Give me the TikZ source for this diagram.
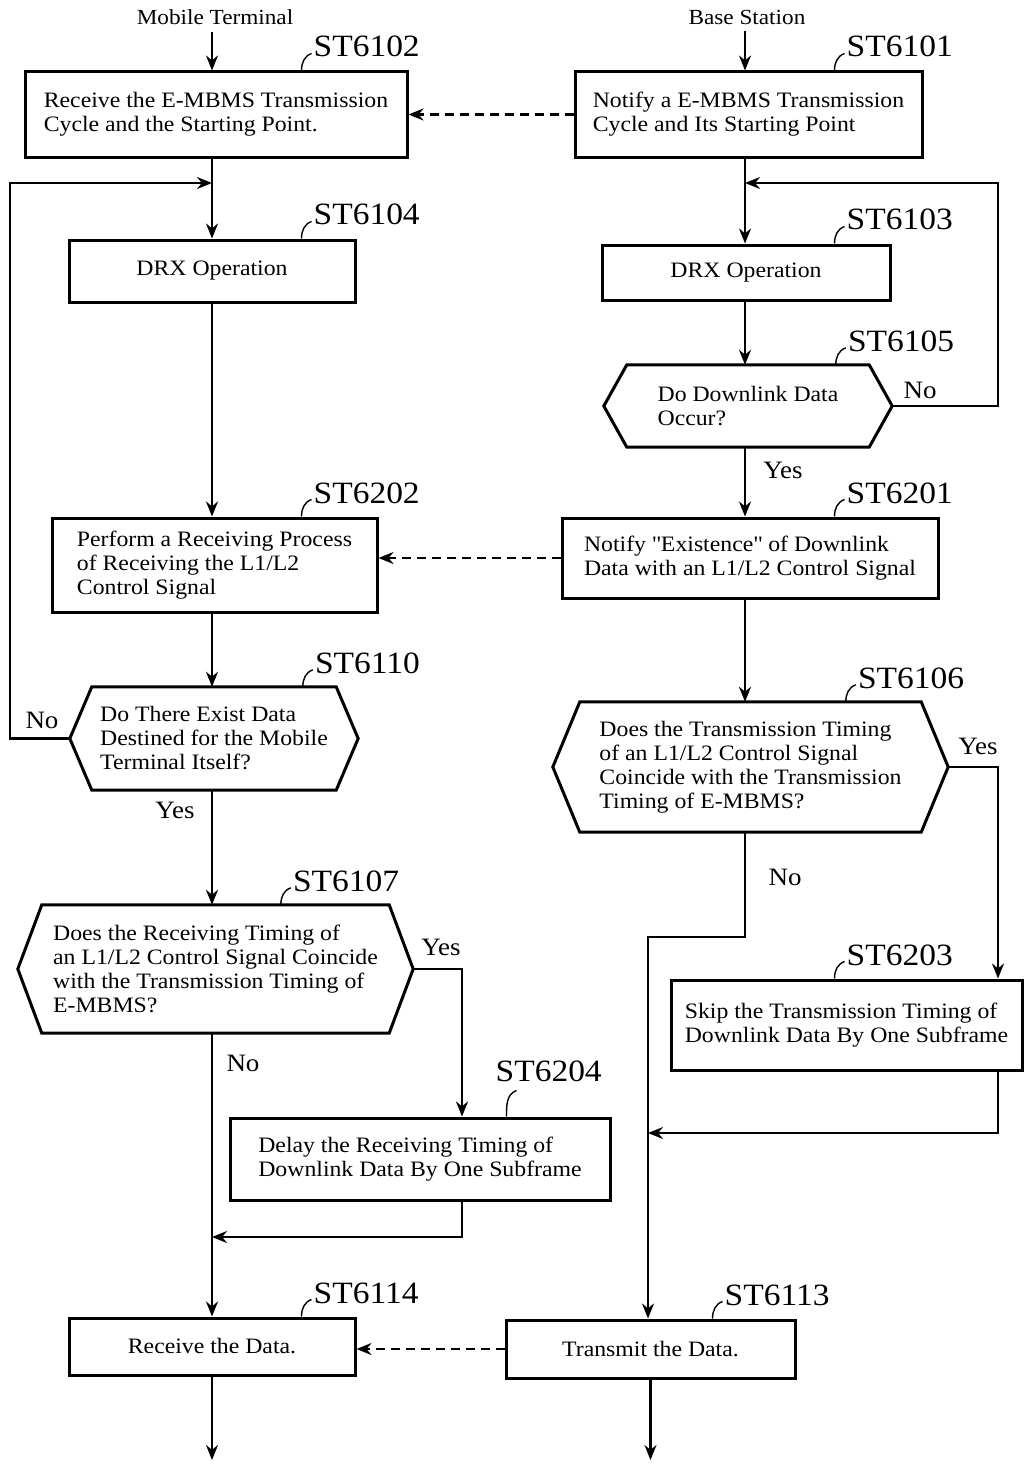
\documentclass[tikz,border=0pt]{standalone}
\usepackage{fontspec}
\setmainfont{Liberation Serif}[FakeStretch=1.08]
\usetikzlibrary{arrows.meta, calc}

\begin{document}
\begin{tikzpicture}[
  x=1pt, y=1pt,
  box/.style={draw, line width=3pt, inner sep=0pt, align=left, font=\fontsize{22}{24}\selectfont},
  dec/.style={inner sep=0pt, align=left, font=\fontsize{22}{24}\selectfont},
  hexline/.style={line width=3pt, line join=miter},
  tag/.style={inner sep=0pt, anchor=south west, font=\fontsize{31}{34}\selectfont},
  tick/.style={line width=1.4pt},
  yn/.style={inner sep=0pt, font=\fontsize{25}{28}\selectfont},
  head/.style={inner sep=7pt, font=\fontsize{21.5}{24}\selectfont},
  flow/.style={line width=2.2pt, -{Stealth[length=15pt, width=12pt]}},
  dflow/.style={flow, dash pattern=on 9pt off 6pt}
]
  \useasboundingbox (0,0) rectangle (1025,-1464);

  \coordinate (colL) at (212,0);
  \coordinate (colR) at (745,0);
  \coordinate (colT) at (648,0);

  % headers
  \node[head] (mt) at (215,-17) {Mobile Terminal};
  \node[head] (bs) at (747,-17) {Base Station};

  % steps
  \node[box, minimum width=382pt, minimum height=85pt] (s6102) at (216,-114.5) {Receive the E-MBMS Transmission\\Cycle and the Starting Point.};
  \node[box, minimum width=347pt, minimum height=85pt] (s6101) at (748.5,-114.5) {Notify a E-MBMS Transmission\\Cycle and Its Starting Point};
  \node[box, minimum width=286pt, minimum height=62pt] (s6104) at (212,-271) {DRX Operation};
  \node[box, minimum width=288pt, minimum height=55pt] (s6103) at (746,-272.5) {DRX Operation};
  \node[dec, minimum width=288pt, minimum height=82pt] (s6105) at (748,-406) {Do Downlink Data\\Occur?};
  \node[box, minimum width=325pt, minimum height=94pt] (s6202) at (214.5,-565) {Perform a Receiving Process\\of Receiving the L1/L2\\Control Signal};
  \node[box, minimum width=376pt, minimum height=80pt] (s6201) at (750,-558) {Notify \textquotedbl Existence\textquotedbl{} of Downlink\\Data with an L1/L2 Control Signal};
  \node[dec, minimum width=288pt, minimum height=103pt] (s6110) at (214,-738.5) {Do There Exist Data\\Destined for the Mobile\\Terminal Itself?};
  \node[dec, minimum width=395pt, minimum height=130pt] (s6106) at (750.5,-767) {Does the Transmission Timing\\of an L1/L2 Control Signal\\Coincide with the Transmission\\Timing of E-MBMS?};
  \node[dec, minimum width=395pt, minimum height=128pt] (s6107) at (215.5,-969) {Does the Receiving Timing of\\an L1/L2 Control Signal Coincide\\with the Transmission Timing of\\E-MBMS?};
  \node[box, minimum width=351pt, minimum height=90pt] (s6203) at (846.5,-1025) {Skip the Transmission Timing of\\Downlink Data By One Subframe};
  \node[box, minimum width=380pt, minimum height=82pt] (s6204) at (420,-1159) {Delay the Receiving Timing of\\Downlink Data By One Subframe};
  \node[box, minimum width=286pt, minimum height=57pt] (s6114) at (212,-1346.5) {Receive the Data.};
  \node[box, minimum width=289pt, minimum height=58pt] (s6113) at (650.5,-1349) {Transmit the Data.};

  % hexagon outlines
  \draw[hexline] ([xshift=23pt]s6105.north west) -- ([xshift=-23pt]s6105.north east) -- (s6105.east) -- ([xshift=-23pt]s6105.south east) -- ([xshift=23pt]s6105.south west) -- (s6105.west) -- cycle;
  \draw[hexline] ([xshift=22pt]s6110.north west) -- ([xshift=-22pt]s6110.north east) -- (s6110.east) -- ([xshift=-22pt]s6110.south east) -- ([xshift=22pt]s6110.south west) -- (s6110.west) -- cycle;
  \draw[hexline] ([xshift=27pt]s6106.north west) -- ([xshift=-27pt]s6106.north east) -- (s6106.east) -- ([xshift=-27pt]s6106.south east) -- ([xshift=27pt]s6106.south west) -- (s6106.west) -- cycle;
  \draw[hexline] ([xshift=24pt]s6107.north west) -- ([xshift=-24pt]s6107.north east) -- (s6107.east) -- ([xshift=-24pt]s6107.south east) -- ([xshift=24pt]s6107.south west) -- (s6107.west) -- cycle;

  % step numbers
  \node[tag] (l6102) at ([shift={(290,13)}]s6102.north west) {ST6102};
  \node[tag] (l6101) at ([shift={(273,13)}]s6101.north west) {ST6101};
  \node[tag] (l6104) at ([shift={(246,13)}]s6104.north west) {ST6104};
  \node[tag] (l6103) at ([shift={(246,13)}]s6103.north west) {ST6103};
  \node[tag] (l6105) at ([shift={(244,13)}]s6105.north west) {ST6105};
  \node[tag] (l6202) at ([shift={(263,13)}]s6202.north west) {ST6202};
  \node[tag] (l6201) at ([shift={(286,13)}]s6201.north west) {ST6201};
  \node[tag] (l6110) at ([shift={(245,13)}]s6110.north west) {ST6110};
  \node[tag] (l6106) at ([shift={(305,13)}]s6106.north west) {ST6106};
  \node[tag] (l6107) at ([shift={(275,13)}]s6107.north west) {ST6107};
  \node[tag] (l6203) at ([shift={(177,13)}]s6203.north west) {ST6203};
  \node[tag] (l6204) at ([shift={(267,35)}]s6204.north west) {ST6204};
  \node[tag] (l6114) at ([shift={(246,13)}]s6114.north west) {ST6114};
  \node[tag] (l6113) at ([shift={(220,13)}]s6113.north west) {ST6113};

  \foreach \t in {l6102, l6101, l6104, l6103, l6105, l6202, l6201, l6110, l6106, l6107, l6203, l6114, l6113}
    \draw[tick] ([shift={(-12,-13)}]\t.south west) to[out=90, in=200] ([shift={(-2,4)}]\t.south west);
  \draw[tick] ([shift={(11,-35)}]l6204.south west) to[out=90, in=200] ([shift={(21,-9)}]l6204.south west);

  % yes / no
  \node[yn] (no6105) at (920,-390) {No};
  \node[yn] (yes6105) at (783,-470) {Yes};
  \node[yn] (no6110) at (42,-720) {No};
  \node[yn] (yes6110) at (175,-810) {Yes};
  \node[yn] (yes6106) at (978,-746) {Yes};
  \node[yn] (no6106) at (785,-877) {No};
  \node[yn] (yes6107) at (441,-947) {Yes};
  \node[yn] (no6107) at (243,-1063) {No};

  % mobile terminal side
  \coordinate (jL) at (212,-183);
  \coordinate (loopL) at (10,-183);
  \coordinate (jL2) at (212,-1237);
  \coordinate (endL) at (212,-1460);
  \draw[flow] (mt.south -| colL) -- (s6102.north -| colL);
  \draw[flow] (s6102.south -| colL) -- (s6104.north -| colL);
  \draw[flow] (s6104.south -| colL) -- (s6202.north -| colL);
  \draw[flow] (s6202.south -| colL) -- (s6110.north -| colL);
  \draw[flow] (s6110.west) -| (loopL) -- (jL);
  \draw[flow] (s6110.south -| colL) -- (s6107.north -| colL);
  \draw[flow] (s6107.east) -| ([xshift=42pt]s6204.north);
  \draw[flow] ([xshift=42pt]s6204.south) |- (jL2);
  \draw[flow] (s6107.south -| colL) -- (s6114.north -| colL);
  \draw[flow] (s6114.south) -- (endL);

  % base station side
  \coordinate (jR) at (745,-183);
  \coordinate (loopR) at (998,-183);
  \coordinate (bendR) at (745,-937);
  \coordinate (jR2) at (648,-1133);
  \coordinate (endR) at (650.5,-1460);
  \draw[flow] (bs.south -| colR) -- (s6101.north -| colR);
  \draw[flow] (s6101.south -| colR) -- (s6103.north -| colR);
  \draw[flow] (s6103.south -| colR) -- (s6105.north -| colR);
  \draw[flow] (s6105.east) -| (loopR) -- (jR);
  \draw[flow] (s6105.south -| colR) -- (s6201.north -| colR);
  \draw[flow] (s6201.south -| colR) -- (s6106.north -| colR);
  \draw[flow] (s6106.east) -| ([xshift=151.5pt]s6203.north);
  \draw[flow] (s6106.south -| colR) -- (bendR) -| (s6113.north -| colT);
  \draw[flow] ([xshift=151.5pt]s6203.south) |- (jR2);
  \draw[flow] (s6113.south) -- (endR);

  % signalling between the two
  \draw[dflow] (s6101.west) -- (s6101.west -| s6102.east);
  \draw[dflow] (s6201.west) -- (s6201.west -| s6202.east);
  \draw[dflow] (s6113.west) -- (s6113.west -| s6114.east);
\end{tikzpicture}
\end{document}
